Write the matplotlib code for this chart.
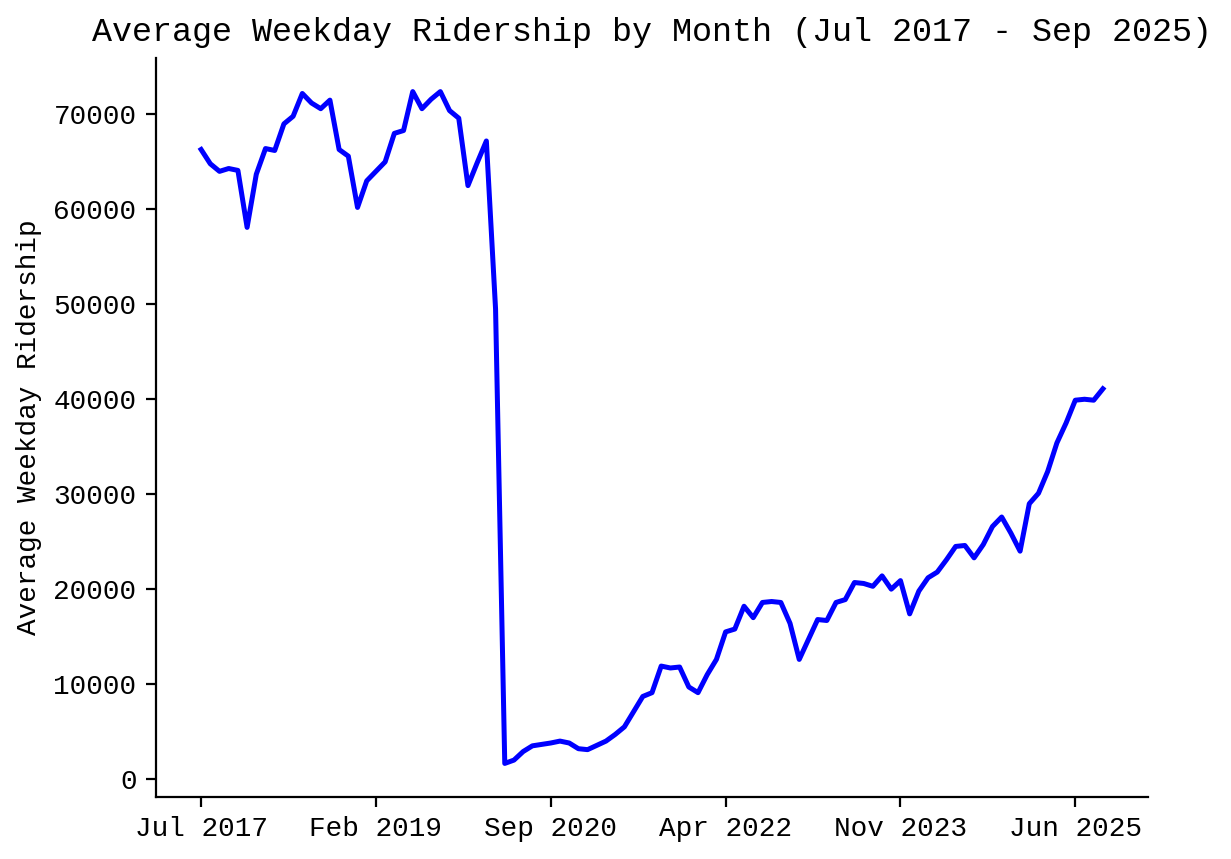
import matplotlib
matplotlib.use("Agg")
import matplotlib.pyplot as plt

plt.rcParams['font.family'] = ['Liberation Mono', 'DejaVu Sans Mono']

# average weekday ridership per month, Jul 2017 .. Sep 2025
ridership = [
    66300, 64800, 64000, 64300, 64100, 58100, 63700, 66400, 66200, 69000,
    69800, 72200, 71200, 70600, 71500, 66300, 65600, 60200, 63000, 64000,
    65000, 68000, 68300, 72400, 70600, 71600, 72400, 70400, 69600, 62500,
    64900, 67200, 49500, 1650, 2000, 2900, 3500, 3650, 3800, 4000,
    3800, 3200, 3100, 3550, 4000, 4700, 5500, 7100, 8700, 9100,
    11900, 11700, 11800, 9700, 9100, 11000, 12600, 15500, 15800, 18200,
    17000, 18600, 18700, 18600, 16400, 12600, 14700, 16800, 16700, 18600,
    18900, 20700, 20600, 20300, 21400, 20000, 20900, 17400, 19800, 21200,
    21800, 23100, 24500, 24600, 23300, 24700, 26600, 27600, 25900, 24000,
    29000, 30100, 32400, 35400, 37500, 39900, 40000, 39900, 41100,
]
month_idx = list(range(len(ridership)))

tick_idx = [0, 19, 38, 57, 76, 95]
tick_labels = ["Jul 2017", "Feb 2019", "Sep 2020", "Apr 2022", "Nov 2023", "Jun 2025"]

fig = plt.figure(figsize=(1231 / 200, 859 / 200), dpi=200)
ax = fig.add_axes([156 / 1231, 62 / 859, 992 / 1231, 739 / 859])

ax.plot(month_idx, ridership, color="blue", linewidth=1.8)
ax.set_xticks(tick_idx)
ax.set_xticklabels(tick_labels)
ax.set_ylabel("Average Weekday Ridership")
ax.set_title("Average Weekday Ridership by Month (Jul 2017 - Sep 2025)")
ax.spines["top"].set_visible(False)
ax.spines["right"].set_visible(False)

fig.savefig("out.png", dpi=200)
